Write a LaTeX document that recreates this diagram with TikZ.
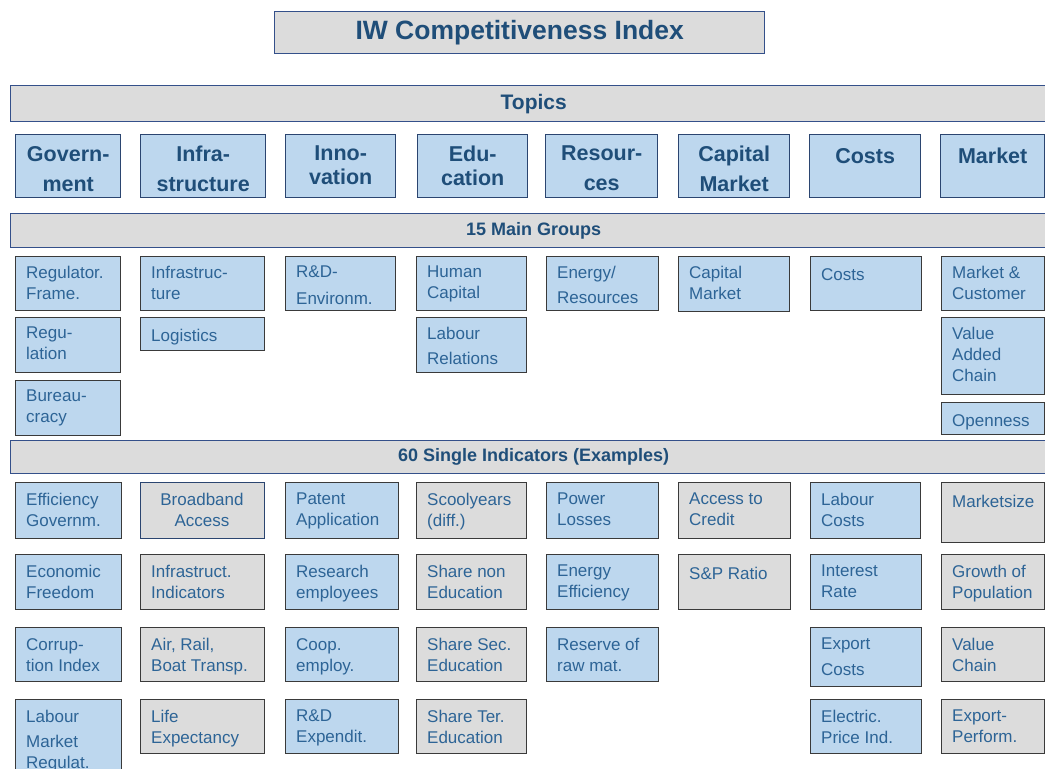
\documentclass[tikz,border=0pt]{standalone}
\usepackage{fontspec}
\setmainfont{Liberation Sans}
\usetikzlibrary{calc}
\definecolor{boxblue}{HTML}{BDD7EE}
\definecolor{boxgray}{HTML}{DCDCDC}
\definecolor{edgegray}{HTML}{3A3A3A}
\definecolor{edgenavy}{HTML}{2B4570}
\definecolor{barnavy}{HTML}{34508A}
\definecolor{headblue}{HTML}{1F4E79}
\definecolor{txtblue}{HTML}{2D6496}
\newcommand{\cellbox}[8]{%
  \node[#6, minimum width=#4pt, minimum height=#5pt] (#1) at (#2,#3) {};
  \node[#7] (#1t) at (#1.north west) {#8};}
\tikzset{
  boxbase/.style={draw, anchor=north west, inner sep=0pt, line width=1.2pt},
  bluebox/.style={boxbase, fill=boxblue, draw=edgegray},
  graybox/.style={boxbase, fill=boxgray, draw=edgegray},
  navybox/.style={boxbase, fill=boxgray, draw=edgenavy},
  topicbox/.style={boxbase, fill=boxblue, draw=edgenavy, line width=1.4pt},
  bar/.style={draw=barnavy, fill=boxgray, line width=1.4pt, anchor=north west, inner sep=0pt, text=headblue},
  lt/.style={anchor=north west, inner sep=0pt, align=left, font=\fontsize{17}{21}\selectfont, text=txtblue, xshift=11pt, yshift=-9.5pt, execute at begin node=\strut},
  li/.style={lt, yshift=-1.5pt},
  ci/.style={li, anchor=north, align=center, xshift=51pt},
  tt/.style={anchor=north, inner sep=0pt, align=center, font=\fontsize{21.5}{24}\selectfont\bfseries, text=headblue, yshift=-12pt, execute at begin node=\strut},
}
\begin{document}
\begin{tikzpicture}[x=1pt,y=-1pt]
\useasboundingbox (0,0) rectangle (1045,769);
\fill[white] (0,0) rectangle (1045,769);
% title
\node[boxbase, fill=boxgray, draw=barnavy, line width=1.4pt, minimum width=490pt, minimum height=42pt, text=headblue, font=\fontsize{26.5}{30}\selectfont\bfseries] (title) at (274,11) {IW Competitiveness Index};
% bars
\node[bar, minimum width=1046pt, minimum height=36pt, font=\fontsize{21}{24}\selectfont\bfseries] (topics) at (10,85) {Topics};
\node[bar, minimum width=1046pt, minimum height=34pt, font=\fontsize{18}{21}\selectfont\bfseries] (groups) at (10,213) {15 Main Groups};
\node[bar, minimum width=1046pt, minimum height=33pt, font=\fontsize{18}{21}\selectfont\bfseries] (single) at (10,440) {60 Single Indicators (Examples)};
% topics
\node[topicbox, minimum width=105pt, minimum height=63pt] (tgov) at (15,134) {};
\node[tt, anchor=north] (tgovt) at (tgov.north) {Govern-\\[6pt]ment};
\node[topicbox, minimum width=125pt, minimum height=63pt] (tinf) at (140,134) {};
\node[tt] (tinft) at (tinf.north) {Infra-\\[6pt]structure};
\node[topicbox, minimum width=110pt, minimum height=63pt] (tinn) at (285,134) {};
\node[tt] (tinnt) at (tinn.north) {Inno-\\vation};
\node[topicbox, minimum width=110pt, minimum height=63pt] (tedu) at (417,134) {};
\node[tt] (tedut) at (tedu.north) {Edu-\\cation};
\node[topicbox, minimum width=112pt, minimum height=63pt] (tres) at (545,134) {};
\node[tt] (trest) at (tres.north) {Resour-\\[6pt]ces};
\node[topicbox, minimum width=111pt, minimum height=63pt] (tcap) at (678,134) {};
\node[tt] (tcapt) at (tcap.north) {Capital\\[6pt]Market};
\node[topicbox, minimum width=111pt, minimum height=63pt] (tcos) at (809,134) {};
\node[tt] (tcost) at (tcos.north) {Costs};
\node[topicbox, minimum width=104pt, minimum height=63pt] (tmar) at (940,134) {};
\node[tt] (tmart) at (tmar.north) {Market};
% main groups
\cellbox{g1}{15}{256}{105}{54}{bluebox}{lt}{Regulator.\\Frame.}
\cellbox{g2}{15}{317}{105}{55}{bluebox}{lt}{Regu-\\lation}
\cellbox{g3}{15}{380}{105}{55}{bluebox}{lt}{Bureau-\\cracy}
\cellbox{g4}{140}{256}{124}{54}{bluebox}{lt}{Infrastruc-\\ture}
\cellbox{g5}{140}{317}{124}{33}{bluebox}{lt}{Logistics}
\cellbox{g6}{285}{256}{110}{54}{bluebox}{lt}{R\&D-\\[6pt]Environm.}
\cellbox{g7}{416}{256}{110}{54}{bluebox}{lt}{Human\\Capital}
\cellbox{g8}{416}{317}{110}{55}{bluebox}{lt}{Labour\\[4pt]Relations}
\cellbox{g9}{546}{256}{112}{54}{bluebox}{lt}{Energy/\\[4pt]Resources}
\cellbox{g10}{678}{256}{111}{55}{bluebox}{lt}{Capital\\Market}
\cellbox{g11}{810}{256}{111}{54}{bluebox}{lt}{Costs}
\cellbox{g12}{941}{256}{103}{54}{bluebox}{lt}{Market \&\\Customer}
\cellbox{g13}{941}{317}{103}{77}{bluebox}{lt}{Value\\Added\\Chain}
\cellbox{g14}{941}{402}{103}{32}{bluebox}{lt}{Openness}
% single indicators
\cellbox{i1}{15}{482}{106}{56}{bluebox}{li}{Efficiency\\Governm.}
\cellbox{i2}{15}{554}{106}{55}{bluebox}{li}{Economic\\Freedom}
\cellbox{i3}{15}{627}{106}{54}{bluebox}{li}{Corrup-\\tion Index}
\cellbox{i4}{15}{699}{106}{85}{bluebox}{li}{Labour\\[4pt]Market\\Regulat.}
\cellbox{i5}{140}{482}{124}{56}{navybox}{ci}{Broadband\\Access}
\cellbox{i6}{140}{554}{124}{55}{graybox}{li}{Infrastruct.\\Indicators}
\cellbox{i7}{140}{627}{124}{54}{graybox}{li}{Air, Rail,\\Boat Transp.}
\cellbox{i8}{140}{699}{124}{54}{graybox}{li}{Life\\Expectancy}
\cellbox{i9}{285}{482}{113}{56}{bluebox}{li}{Patent\\Application}
\cellbox{i10}{285}{554}{113}{55}{bluebox}{li}{Research\\employees}
\cellbox{i11}{285}{627}{113}{54}{bluebox}{li}{Coop.\\employ.}
\cellbox{i12}{285}{699}{113}{54}{bluebox}{li}{R\&D\\Expendit.}
\cellbox{i13}{416}{482}{110}{56}{graybox}{li}{Scoolyears\\(diff.)}
\cellbox{i14}{416}{554}{110}{55}{graybox}{li}{Share non\\Education}
\cellbox{i15}{416}{627}{110}{54}{graybox}{li}{Share Sec.\\Education}
\cellbox{i16}{416}{699}{110}{54}{graybox}{li}{Share Ter.\\Education}
\cellbox{i17}{546}{482}{112}{56}{bluebox}{li}{Power\\Losses}
\cellbox{i18}{546}{554}{112}{55}{bluebox}{li}{Energy\\Efficiency}
\cellbox{i19}{546}{627}{112}{54}{bluebox}{li}{Reserve of\\raw mat.}
\cellbox{i20}{678}{482}{112}{56}{graybox}{li}{Access to\\Credit}
\cellbox{i21}{678}{554}{112}{55}{graybox}{li}{S\&P Ratio}
\cellbox{i22}{810}{482}{110}{56}{bluebox}{li}{Labour\\Costs}
\cellbox{i23}{810}{554}{111}{55}{bluebox}{li}{Interest\\Rate}
\cellbox{i24}{810}{627}{111}{59}{bluebox}{li}{Export\\[5pt]Costs}
\cellbox{i25}{810}{699}{111}{54}{bluebox}{li}{Electric.\\Price Ind.}
\cellbox{i26}{941}{482}{103}{60}{graybox}{li}{Marketsize}
\cellbox{i27}{941}{554}{103}{55}{graybox}{li}{Growth of\\Population}
\cellbox{i28}{941}{627}{103}{54}{graybox}{li}{Value\\Chain}
\cellbox{i29}{941}{699}{103}{54}{graybox}{li}{Export-\\Perform.}
\end{tikzpicture}
\end{document}
